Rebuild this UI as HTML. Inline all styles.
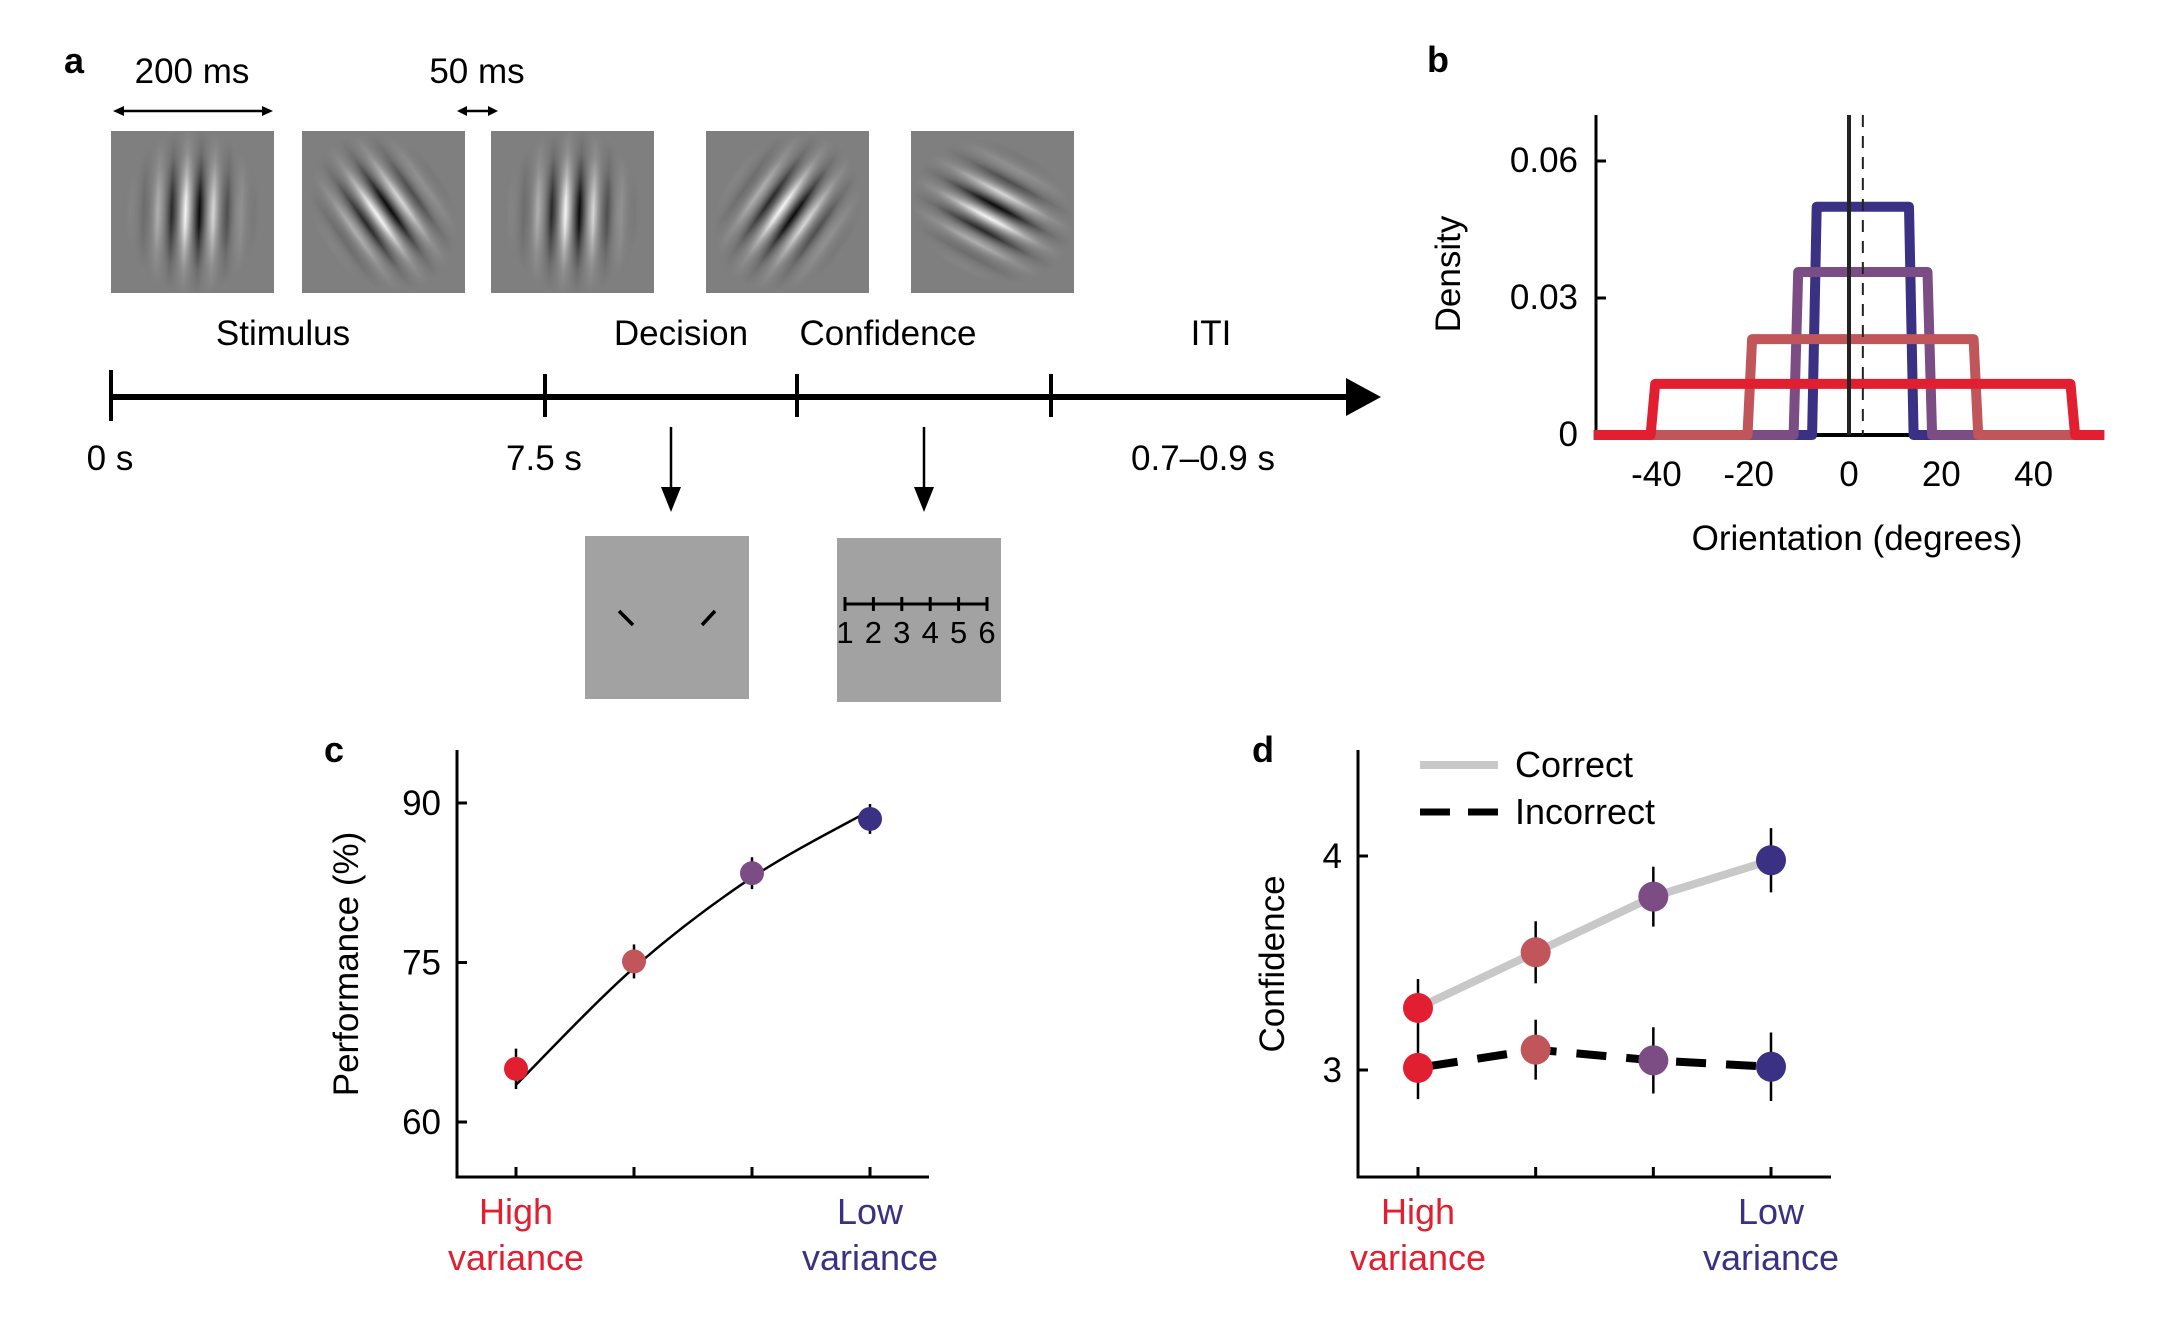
<!DOCTYPE html>
<html><head><meta charset="utf-8">
<style>
html,body{margin:0;padding:0;background:#fff;}
svg{display:block;font-family:"Liberation Sans",sans-serif;}
</style></head>
<body>
<svg id="fig" width="2158" height="1318" viewBox="0 0 2158 1318" xmlns="http://www.w3.org/2000/svg">
<defs>
  <radialGradient id="env" cx="0.5" cy="0.5" r="0.5">
    <stop offset="0" stop-color="#fff" stop-opacity="1"/>
    <stop offset="0.2" stop-color="#fff" stop-opacity="0.85"/>
    <stop offset="0.45" stop-color="#fff" stop-opacity="0.45"/>
    <stop offset="0.7" stop-color="#fff" stop-opacity="0.15"/>
    <stop offset="1" stop-color="#fff" stop-opacity="0"/>
  </radialGradient>
</defs>

<!-- Panel a -->
<g>
  <text x="64" y="73" font-size="36" font-weight="bold">a</text>
  <text x="192" y="83" font-size="35" text-anchor="middle">200 ms</text>
  <text x="477" y="83" font-size="35" text-anchor="middle">50 ms</text>
  <g stroke="#000" stroke-width="2.5" fill="#000">
    <line x1="120" y1="111" x2="266" y2="111"/>
    <polygon points="113,111 124,106 124,116" stroke="none"/>
    <polygon points="273,111 262,106 262,116" stroke="none"/>
  </g>
  <g stroke="#000" stroke-width="2.5" fill="#000">
    <line x1="463" y1="111" x2="492" y2="111"/>
    <polygon points="457,111 467,106 467,116" stroke="none"/>
    <polygon points="498,111 488,106 488,116" stroke="none"/>
  </g>
  <g id="gabors"></g>

  <text x="283" y="345" font-size="35" text-anchor="middle">Stimulus</text>
  <text x="681" y="345" font-size="35" text-anchor="middle">Decision</text>
  <text x="888" y="345" font-size="35" text-anchor="middle">Confidence</text>
  <text x="1211" y="345" font-size="35" text-anchor="middle">ITI</text>

  <g stroke="#000">
    <line x1="111" y1="397" x2="1350" y2="397" stroke-width="6"/>
    <polygon points="1346,378 1381,397 1346,416" fill="#000" stroke="none"/>
    <line x1="111" y1="370" x2="111" y2="421" stroke-width="4"/>
    <line x1="545" y1="374" x2="545" y2="417" stroke-width="4"/>
    <line x1="797" y1="374" x2="797" y2="417" stroke-width="4"/>
    <line x1="1051" y1="374" x2="1051" y2="417" stroke-width="4"/>
  </g>
  <text x="110" y="470" font-size="35" text-anchor="middle">0 s</text>
  <text x="544" y="470" font-size="35" text-anchor="middle">7.5 s</text>
  <text x="1203" y="470" font-size="35" text-anchor="middle">0.7–0.9 s</text>

  <g stroke="#000" stroke-width="2.5" fill="#000">
    <line x1="671" y1="427" x2="671" y2="490"/>
    <polygon points="661,487 681,487 671,512" stroke="none"/>
    <line x1="924" y1="427" x2="924" y2="490"/>
    <polygon points="914,487 934,487 924,512" stroke="none"/>
  </g>

  <g>
    <rect x="585" y="536" width="164" height="163" fill="#a2a2a2"/>
    <line x1="619" y1="611" x2="633" y2="625" stroke="#000" stroke-width="3.5"/>
    <line x1="702" y1="625" x2="715" y2="611" stroke="#000" stroke-width="3.5"/>
  </g>
  <g>
    <rect x="837" y="538" width="164" height="164" fill="#a2a2a2"/>
    <g id="scale" stroke="#000" stroke-width="3"></g>
  </g>
</g>

<!-- Panel b -->
<g id="panelB">
  <text x="1427" y="72" font-size="36" font-weight="bold">b</text>
  <text x="0" y="0" font-size="35" text-anchor="middle" transform="translate(1460,274) rotate(-90)">Density</text>
  <text x="1857" y="550" font-size="35" text-anchor="middle">Orientation (degrees)</text>
</g>

<!-- Panel c -->
<g id="panelC">
  <text x="324" y="762" font-size="36" font-weight="bold">c</text>
  <text x="0" y="0" font-size="35" text-anchor="middle" transform="translate(358,964) rotate(-90)">Performance (%)</text>
</g>

<!-- Panel d -->
<g id="panelD">
  <text x="1252" y="762" font-size="36" font-weight="bold">d</text>
  <text x="0" y="0" font-size="35" text-anchor="middle" transform="translate(1284,964) rotate(-90)">Confidence</text>
  <g>
    <line x1="1420" y1="765" x2="1498" y2="765" stroke="#c8c8c8" stroke-width="8"/>
    <text x="1515" y="777" font-size="36">Correct</text>
    <line x1="1420" y1="812" x2="1498" y2="812" stroke="#000" stroke-width="7" stroke-dasharray="30,18"/>
    <text x="1515" y="824" font-size="36">Incorrect</text>
  </g>
</g>
</svg>

<script>
// ---------- data ----------
const gaborAngles = [2, -35, 2, 35, -62];           // stripe orientation (deg from vertical)
const gaborLefts = [111, 302, 491, 706, 911];
const scaleLabels = ["1","2","3","4","5","6"];

const distCenter = 3;
const distHalfWidths = [10, 14, 24, 45];             // blue, purple, pink, red
const distHeights = [0.050, 0.0357, 0.021, 0.0112];
const distColors = ["#3a3184", "#7c4d85", "#c0565a", "#e21f30"];
const bYTicks = [0, 0.03, 0.06];
const bYTickLabels = ["0", "0.03", "0.06"];
const bXTicks = [-40, -20, 0, 20, 40];
const bXTickLabels = ["-40", "-20", "0", "20", "40"];

const categories = ["High variance", "2", "3", "Low variance"];
const catColors = ["#e21f30", "#c0565a", "#7c4d85", "#3a3184"];
const perfValues = [65.0, 75.1, 83.4, 88.5];
const perfErrors = [1.9, 1.6, 1.5, 1.4];
const perfFit = [63.5, 74.5, 83.0, 89.3];
const cYTicks = [60, 75, 90];
const cYTickLabels = ["60", "75", "90"];

const confCorrect = [3.29, 3.55, 3.81, 3.98];
const confCorrectErr = [0.135, 0.145, 0.14, 0.15];
const confIncorrect = [3.01, 3.095, 3.045, 3.015];
const confIncorrectErr = [0.146, 0.14, 0.155, 0.16];
const dYTicks = [3, 4];
const dYTickLabels = ["3", "4"];

// ---------- helpers ----------
const NS = "http://www.w3.org/2000/svg";
function mk(tag, attrs, parent) {
  const e = document.createElementNS(NS, tag);
  for (const k in attrs) e.setAttribute(k, attrs[k]);
  parent.appendChild(e);
  return e;
}
const svg = document.getElementById('fig');
const defs = svg.querySelector('defs');

// ---------- gabors ----------
const gg = document.getElementById('gabors');
gaborAngles.forEach((ang, i) => {
  const x = gaborLefts[i], y = 131, w = 163, h = 162;
  const cx = x + w / 2, cy = y + h / 2;
  const lg = mk('linearGradient', {id: 'gr' + i, gradientUnits: 'userSpaceOnUse', x1: cx - 7, y1: cy, x2: cx + 21, y2: cy, spreadMethod: 'repeat', gradientTransform: `rotate(${ang} ${cx} ${cy})`}, defs);
  [['0', '#ffffff'], ['0.25', '#7f7f7f'], ['0.5', '#000000'], ['0.75', '#7f7f7f'], ['1', '#ffffff']].forEach(s => mk('stop', {offset: s[0], 'stop-color': s[1]}, lg));
  const m = mk('mask', {id: 'mk' + i, maskUnits: 'userSpaceOnUse', x: x, y: y, width: w, height: h}, defs);
  mk('ellipse', {cx: cx, cy: cy, rx: 68, ry: 84, fill: 'url(#env)', transform: `rotate(${ang} ${cx} ${cy})`}, m);
  const g = mk('g', {}, gg);
  
  
  mk('rect', {x: x, y: y, width: w, height: h, fill: '#7f7f7f'}, g);
  mk('rect', {x: x, y: y, width: w, height: h, fill: 'url(#gr' + i + ')', mask: 'url(#mk' + i + ')'}, g);
});

// confidence scale
const sc = document.getElementById('scale');
mk('line', {x1: 845, y1: 604, x2: 987, y2: 604}, sc);
scaleLabels.forEach((l, i) => {
  const x = 845 + i * (987 - 845) / 5;
  mk('line', {x1: x, y1: 597, x2: x, y2: 611}, sc);
  const t = mk('text', {x: x, y: 643, 'font-size': 31, 'text-anchor': 'middle', stroke: 'none'}, sc);
  t.textContent = l;
  
  
});

// ---------- panel b ----------
const pB = document.getElementById('panelB');
const bx = v => 1849 + (v - 0) * 4.615;
const by = v => 435 - v * (435 - 298) / 0.03;
const bxMin = -55.3, bxMax = 55.3;
mk('line', {x1: 1596, y1: 115, x2: 1596, y2: 437, stroke: '#000', 'stroke-width': 3}, pB);
mk('line', {x1: bx(bxMin), y1: by(0), x2: bx(bxMax), y2: by(0), stroke: '#000', 'stroke-width': 4}, pB);
bYTicks.forEach((v, i) => {
  if (v > 0) mk('line', {x1: 1596, y1: by(v), x2: 1606, y2: by(v), stroke: '#000', 'stroke-width': 3}, pB);
  const t = mk('text', {x: 1578, y: by(v) + 11, 'font-size': 35, 'text-anchor': 'end'}, pB);
  t.textContent = bYTickLabels[i];
  
  
});
bXTicks.forEach((v, i) => {
  const t = mk('text', {x: bx(v) - (v < 0 ? 8 : 0), y: 486, 'font-size': 35, 'text-anchor': 'middle'}, pB);
  t.textContent = bXTickLabels[i];
  
  
});
distHalfWidths.forEach((hw, i) => {
  const c = distCenter, h = distHeights[i];
  const pts = [[bxMin, 0], [c - hw - 1, 0], [c - hw, h], [c + hw, h], [c + hw + 1, 0], [bxMax, 0]];
  const d = pts.map((p, j) => (j ? 'L' : 'M') + bx(p[0]).toFixed(1) + ',' + by(p[1]).toFixed(1)).join(' ');
  const p = mk('path', {d: d, fill: 'none', stroke: distColors[i], 'stroke-width': 10, 'stroke-linejoin': 'round'}, pB);
  
  
});
mk('line', {x1: bx(0), y1: 115, x2: bx(0), y2: by(0), stroke: '#222', 'stroke-width': 4}, pB);
mk('line', {x1: bx(distCenter), y1: 115, x2: bx(distCenter), y2: by(0), stroke: '#222', 'stroke-width': 2, 'stroke-dasharray': '12,9'}, pB);

// ---------- panel c ----------
const pC = document.getElementById('panelC');
const catXc = [516, 634, 752, 870];
const cx = i => catXc[0] + i * (catXc[3] - catXc[0]) / (categories.length - 1);
const cy = v => 1122 - (v - 60) * (1122 - 803) / 30;
function axes(p, x0, x1, yTop, yB, ticks, labels, yf, xf, prefix) {
  mk('line', {x1: x0, y1: yTop, x2: x0, y2: yB + 1.5, stroke: '#000', 'stroke-width': 3}, p);
  mk('line', {x1: x0, y1: yB, x2: x1, y2: yB, stroke: '#000', 'stroke-width': 3}, p);
  ticks.forEach((v, i) => {
    mk('line', {x1: x0, y1: yf(v), x2: x0 + 10, y2: yf(v), stroke: '#000', 'stroke-width': 3}, p);
    const t = mk('text', {x: x0 - 16, y: yf(v) + 12, 'font-size': 35, 'text-anchor': 'end'}, p);
    t.textContent = labels[i];
    
    
  });
  categories.forEach((c, i) => {
    mk('line', {x1: xf(i), y1: yB, x2: xf(i), y2: yB - 10, stroke: '#000', 'stroke-width': 3}, p);
  });
  [[0, 'High', catColors[0]], [3, 'Low', catColors[3]]].forEach(a => {
    const t1 = mk('text', {x: xf(a[0]), y: 1224, 'font-size': 36, 'text-anchor': 'middle', fill: a[2]}, p);
    t1.textContent = a[1];
    
    
    const t2 = mk('text', {x: xf(a[0]), y: 1270, 'font-size': 36, 'text-anchor': 'middle', fill: a[2]}, p);
    t2.textContent = 'variance';
    
    
  });
}
axes(pC, 457, 929, 750, 1177, cYTicks, cYTickLabels, cy, cx, 'c');
(function () {
  const P = perfFit.map((v, i) => [cx(i), cy(v)]);
  let d = 'M' + P[0][0] + ',' + P[0][1];
  for (let i = 0; i < P.length - 1; i++) {
    const p0 = P[Math.max(0, i - 1)], p1 = P[i], p2 = P[i + 1], p3 = P[Math.min(P.length - 1, i + 2)];
    const c1 = [p1[0] + (p2[0] - p0[0]) / 6, p1[1] + (p2[1] - p0[1]) / 6];
    const c2 = [p2[0] - (p3[0] - p1[0]) / 6, p2[1] - (p3[1] - p1[1]) / 6];
    d += ` C${c1[0]},${c1[1]} ${c2[0]},${c2[1]} ${p2[0]},${p2[1]}`;
  }
  const c = mk('path', {d: d, fill: 'none', stroke: '#000', 'stroke-width': 2.5}, pC);
  
  
})();
perfValues.forEach((v, i) => {
  const e = mk('line', {x1: cx(i), y1: cy(v + perfErrors[i]), x2: cx(i), y2: cy(v - perfErrors[i]), stroke: '#000', 'stroke-width': 2.5}, pC);
  
  
  const m = mk('ellipse', {cx: cx(i), cy: cy(v), rx: 12, ry: 12, fill: catColors[i]}, pC);
  
  
});

// ---------- panel d ----------
const pD = document.getElementById('panelD');
const catXd = [1418, 1771];
const dx = i => catXd[0] + i * (catXd[1] - catXd[0]) / (categories.length - 1);
const dy = v => 1070 - (v - 3) * (1070 - 856);
axes(pD, 1358, 1831, 750, 1177, dYTicks, dYTickLabels, dy, dx, 'd');
function series(vals, attrs, name) {
  const d = vals.map((v, i) => (i ? 'L' : 'M') + dx(i) + ',' + dy(v)).join(' ');
  const p = mk('path', Object.assign({d: d, fill: 'none'}, attrs), pD);
  
  
}
series(confCorrect, {stroke: '#c8c8c8', 'stroke-width': 8}, 'correct-line');
series(confIncorrect, {stroke: '#000', 'stroke-width': 8, 'stroke-dasharray': '30,20', 'stroke-dashoffset': '-10'}, 'incorrect-line');
[[confCorrect, confCorrectErr, 'correct'], [confIncorrect, confIncorrectErr, 'incorrect']].forEach(s => {
  s[0].forEach((v, i) => {
    const e = mk('line', {x1: dx(i), y1: dy(v + s[1][i]), x2: dx(i), y2: dy(v - s[1][i]), stroke: '#000', 'stroke-width': 2.5}, pD);
    
    
    const m = mk('ellipse', {cx: dx(i), cy: dy(v), rx: 15, ry: 15, fill: catColors[i]}, pD);
    
    
  });
});
</script>
</body></html>
